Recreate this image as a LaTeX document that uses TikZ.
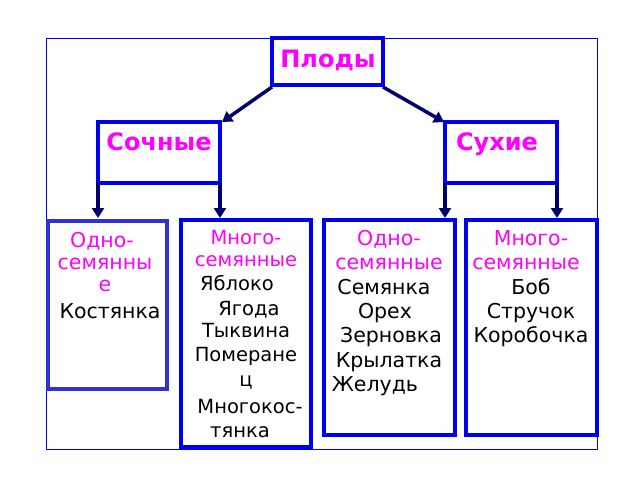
\documentclass[tikz,border=0pt]{standalone}
\usepackage{fontspec}
\setmainfont{DejaVu Sans}
\usetikzlibrary{arrows.meta}
\definecolor{bx}{RGB}{0,0,240}
\definecolor{bx1}{RGB}{50,50,210}
\definecolor{ar}{RGB}{0,0,110}
\definecolor{mg}{RGB}{255,0,255}
\tikzset{
 box/.style={draw=bx,line width=3.5pt},
 arr/.style={draw=ar,line width=3.5pt,-{Triangle[length=10pt,width=12pt]}},
 t/.style={font=\fontsize{20.5}{24}\selectfont,inner sep=0pt,anchor=base},
 mt/.style={t,text=mg},
 s/.style={font=\fontsize{19.5}{23}\selectfont},
 ht/.style={font=\bfseries\fontsize{24}{28}\selectfont,text=mg,inner sep=0pt,anchor=base},
}
\begin{document}
\begin{tikzpicture}[x=1pt,y=-1pt]
\useasboundingbox (0,0) rectangle (640,480);
\fill[white] (0,0) rectangle (640,480);
\draw[bx,line width=0.8pt] (46,38) rectangle (597,449);
\draw[box] (272,38) rectangle (383,85);
\node[ht] (p) at (328,67) {Плоды};
\draw[box] (98,122) rectangle (220,183);
\node[ht] (s) at (159,150) {Сочные};
\draw[box] (445,122) rectangle (557,183);
\node[ht] (d) at (497,150) {Сухие};
\coordinate (pl) at (272,87); \coordinate (pr) at (383,87);
\coordinate (sl) at (222,122); \coordinate (sr) at (444,122);
\draw[arr] (pl) -- (sl);
\draw[arr] (pr) -- (sr);
\foreach \x in {98,220,445,557}{
 \coordinate (a\x) at (\x,183); \coordinate (b\x) at (\x,218);
 \draw[arr] (a\x) -- (b\x);}
\draw[draw=bx1,line width=4pt] (48,221) rectangle (167,389);
\draw[box] (181,220) rectangle (311,447);
\draw[box] (324,220) rectangle (455,435);
\draw[box] (466,220) rectangle (597,435);
% box1
\node[mt] at (102,247) {Одно-};
\node[mt] at (105,269) {семянны};
\node[mt] at (105,291) {е};
\node[t] at (110,318) {Костянка};
% box2
\node[mt,s] at (246,244) {Много-};
\node[mt,s] at (246,266) {семянные};
\node[t,s] at (237,290) {Яблоко};
\node[t,s] at (249,315) {Ягода};
\node[t,s] at (246,337) {Тыквина};
\node[t,s] at (246,361) {Померане};
\node[t,s] at (246,386) {ц};
\node[t,s] at (250,413) {Многокос-};
\node[t,s] at (240,437) {тянка};
% box3
\node[mt] at (389,245) {Одно-};
\node[mt] at (389,269) {семянные};
\node[t] at (384,294) {Семянка};
\node[t] at (385,318) {Орех};
\node[t] at (391,342) {Зерновка};
\node[t] at (389,367) {Крылатка};
\node[t] at (375,391) {Желудь};
% box4
\node[mt] at (531,245) {Много-};
\node[mt] at (526,269) {семянные};
\node[t] at (531,294) {Боб};
\node[t] at (531,318) {Стручок};
\node[t] at (531,342) {Коробочка};
\end{tikzpicture}
\end{document}
